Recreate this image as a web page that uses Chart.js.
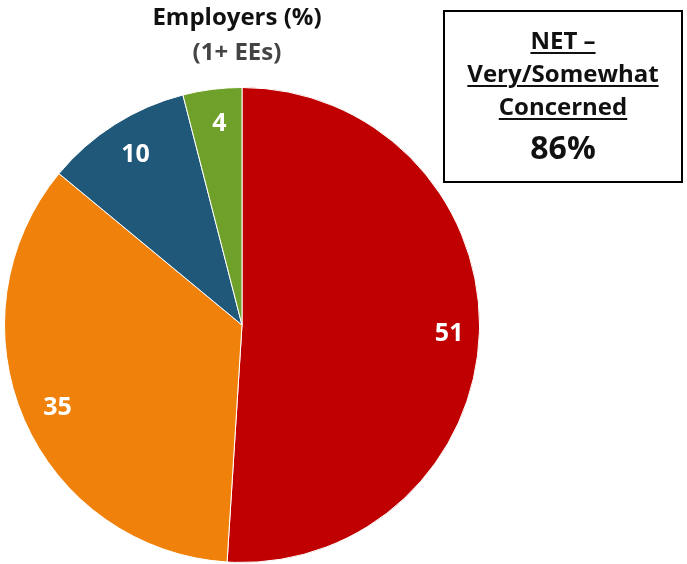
<!DOCTYPE html>
<html>
<head>
<meta charset="utf-8">
<script src="https://cdn.jsdelivr.net/npm/chart.js@4"></script>
<style>
  html, body { margin: 0; padding: 0; background: #fff; }
  #wrap { position: relative; width: 687px; height: 564px; }
  #pie { position: absolute; left: 0; top: 0; }
  .title {
    position: absolute; left: 117px; width: 240px; text-align: center;
    font-family: "Open Sans", sans-serif; font-weight: bold; font-size: 24px; line-height: 24px;
  }
  #net-box {
    position: absolute; left: 443px; top: 10px; width: 236px; height: 169px;
    border: 2px solid #000; text-align: center;
    font-family: "Open Sans", sans-serif; font-weight: bold; color: #111;
  }
  #net-box .line { position: absolute; left: 0; right: 0; font-size: 24px; line-height: 25px; }
  #net-box u { text-decoration-thickness: 2px; text-underline-offset: 3px; }
</style>
</head>
<body>
<div id="wrap">
  <canvas id="pie" width="687" height="564"></canvas>
  <div class="title" style="top:4px;color:#111;">Employers (%)</div>
  <div class="title" style="top:39px;color:#444;">(1+ EEs)</div>
  <div id="net-box">
    <div class="line" style="top:15px;"><u>NET –</u></div>
    <div class="line" style="top:48px;"><u>Very/Somewhat</u></div>
    <div class="line" style="top:81px;"><u>Concerned</u></div>
    <div class="line" style="top:118px;font-size:32px;line-height:33px;">86%</div>
  </div>
</div>
<script>
const categories = ['Very concerned', 'Somewhat concerned', 'Not too concerned', 'Not at all concerned'];
const values = [51, 35, 10, 4];
const colors = ['#C00000', '#F0820C', '#1F5878', '#6FA02A'];

// value labels inside the slices
const sliceLabels = {
  id: 'sliceLabels',
  afterDatasetsDraw(chart) {
    const { ctx } = chart;
    const meta = chart.getDatasetMeta(0);
    ctx.save();
    ctx.fillStyle = '#fff';
    ctx.font = 'bold 25px "Open Sans", sans-serif';
    ctx.textAlign = 'center';
    ctx.textBaseline = 'middle';
    meta.data.forEach((arc, i) => {
      const mid = (arc.startAngle + arc.endAngle) / 2;
      const r = arc.outerRadius * 0.86;
      ctx.fillText(String(values[i]), arc.x + 3 + r * Math.cos(mid), arc.y + 2 + r * Math.sin(mid));
    });
    ctx.restore();
  }
};

new Chart(document.getElementById('pie'), {
  type: 'pie',
  data: {
    labels: categories,
    datasets: [{
      data: values,
      backgroundColor: colors,
      borderColor: '#fff',
      borderWidth: 1
    }]
  },
  options: {
    responsive: false,
    animation: false,
    layout: { padding: { left: 4, top: 87, right: 207, bottom: 1 } },
    plugins: {
      legend: { display: false },
      tooltip: { enabled: false }
    }
  },
  plugins: [sliceLabels]
});
</script>
</body>
</html>
